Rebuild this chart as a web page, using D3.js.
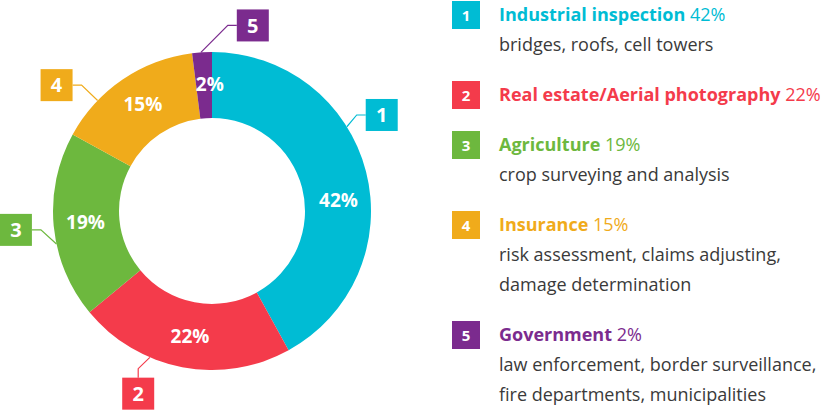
<!DOCTYPE html>
<html>
<head>
<meta charset="utf-8">
<script src="https://cdn.jsdelivr.net/npm/d3@7"></script>
<style>
  html, body { margin: 0; padding: 0; background: #fff; }
  svg { display: block; font-family: "Open Sans", "Noto Sans", sans-serif; }
</style>
</head>
<body>
<svg id="chart" width="827" height="412"></svg>
<script>
// data
var numbers = ['1', '2', '3', '4', '5'];
var categories = ['Industrial inspection', 'Real estate/Aerial photography', 'Agriculture', 'Insurance', 'Government'];
var shares = [42, 22, 19, 15, 2];
var descriptions = [
  ['bridges, roofs, cell towers'],
  [],
  ['crop surveying and analysis'],
  ['risk assessment, claims adjusting,', 'damage determination'],
  ['law enforcement, border surveillance,', 'fire departments, municipalities']
];

// style + layout
var palette = ['#00bcd4', '#f43b4b', '#6db83e', '#f0ab1b', '#7b2b8e'];
var textColor = '#3a3a3a';
var cx = 212, cy = 211, rOuter = 159, rInner = 93, rLabel = 127;
var labelAngles = [85, 190, 265, 327, 359];      // where the % labels sit (deg)
var anchorAngles = [58, 203, 258, 314, 356];     // where leader lines touch the ring
var boxAngles = [60.5, 202, 264.5, 309, 12.4];   // where the numbered boxes sit
var boxRadius = [195, 197, 197, 200, 190];

var svg = d3.select('#chart');
var toRad = function (deg) { return deg * Math.PI / 180; };
var polar = function (r, deg) {
  return { x: cx + r * Math.sin(toRad(deg)), y: cy - r * Math.cos(toRad(deg)) };
};

var pie = d3.pie().sort(null).value(function (d) { return d; });
var arcs = pie(shares);
var arc = d3.arc().innerRadius(rInner).outerRadius(rOuter);
var labelArc = d3.arc().innerRadius(rLabel).outerRadius(rLabel);

var g = svg.append('g').attr('transform', 'translate(' + cx + ',' + cy + ')');

g.selectAll('path.slice')
  .data(arcs)
  .enter().append('path')
  .attr('class', 'slice')
  .attr('d', arc)
  .attr('fill', function (d, i) { return palette[i]; });

g.selectAll('text.pct')
  .data(arcs)
  .enter().append('text')
  .attr('class', 'pct')
  .attr('transform', function (d, i) {
    var a = toRad(labelAngles[i]);
    var c = labelArc.centroid({ startAngle: a, endAngle: a });
    return 'translate(' + c[0] + ',' + c[1] + ')';
  })
  .attr('text-anchor', 'middle')
  .attr('dy', '0.36em')
  .attr('fill', '#fff')
  .attr('font-weight', 'bold')
  .attr('font-size', 19)
  .text(function (d) { return d.data + '%'; });

// callouts
var boxSize = 32, stub = 9;
arcs.forEach(function (d, i) {
  var p = polar(rOuter, anchorAngles[i]);
  var c = polar(boxRadius[i], boxAngles[i]);
  var e, elbow;
  if (Math.abs(c.x - p.x) > Math.abs(c.y - p.y)) {
    var sx = c.x > p.x ? -1 : 1;
    e = { x: c.x + sx * boxSize / 2, y: c.y };
    elbow = { x: e.x + sx * stub, y: c.y };
  } else {
    var sy = c.y > p.y ? -1 : 1;
    e = { x: c.x, y: c.y + sy * boxSize / 2 };
    elbow = { x: c.x, y: e.y + sy * stub };
  }

  svg.append('path')
    .attr('d', 'M' + p.x + ',' + p.y + 'L' + elbow.x + ',' + elbow.y + 'L' + e.x + ',' + e.y)
    .attr('fill', 'none')
    .attr('stroke', palette[i])
    .attr('stroke-width', 1.2);

  svg.append('rect')
    .attr('x', c.x - boxSize / 2)
    .attr('y', c.y - boxSize / 2)
    .attr('width', boxSize)
    .attr('height', boxSize)
    .attr('fill', palette[i]);

  svg.append('text')
    .attr('x', c.x)
    .attr('y', c.y)
    .attr('dy', '0.36em')
    .attr('text-anchor', 'middle')
    .attr('fill', '#fff')
    .attr('font-weight', 'bold')
    .attr('font-size', 20)
    .text(numbers[i]);
});

// legend
var legendX = 452, textX = 499, lineStep = 30, groupGap = 50;
var y = 21;
categories.forEach(function (name, i) {
  var row = svg.append('g').attr('class', 'legend-row');

  row.append('rect')
    .attr('x', legendX)
    .attr('y', y - 20)
    .attr('width', 28)
    .attr('height', 28)
    .attr('fill', palette[i]);

  row.append('text')
    .attr('x', legendX + 14)
    .attr('y', y)
    .attr('text-anchor', 'middle')
    .attr('fill', '#fff')
    .attr('font-weight', 'bold')
    .attr('font-size', 15)
    .text(numbers[i]);

  var title = row.append('text')
    .attr('x', textX)
    .attr('y', y)
    .attr('fill', palette[i])
    .attr('font-size', 18);
  title.append('tspan').attr('font-weight', 'bold').text(name);
  title.append('tspan').text(' ' + shares[i] + '%');

  var last = y;
  descriptions[i].forEach(function (line, k) {
    last = y + lineStep * (k + 1);
    row.append('text')
      .attr('x', textX)
      .attr('y', last)
      .attr('fill', textColor)
      .attr('font-size', 18)
      .text(line);
  });
  y = last + groupGap;
});
</script>
</body>
</html>
